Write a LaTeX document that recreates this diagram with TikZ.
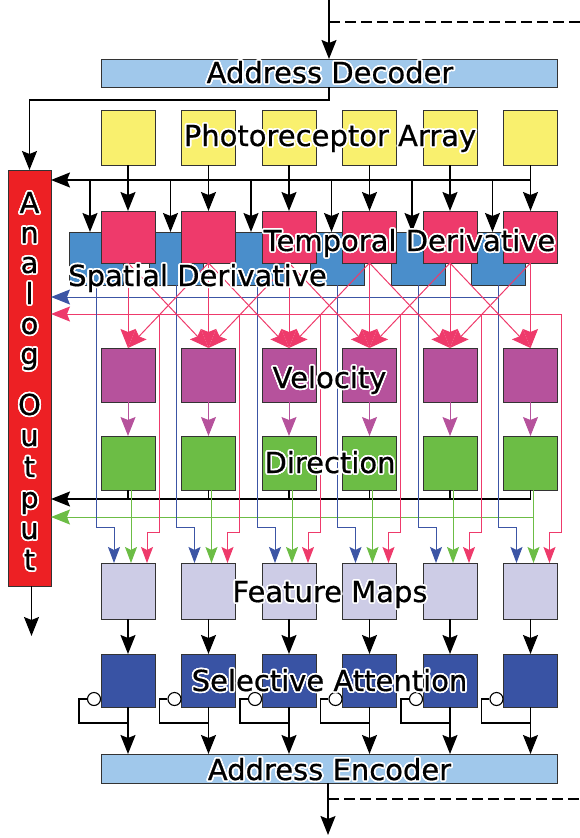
\documentclass[tikz,border=0pt]{standalone}
\usepackage{fontspec}
\setmainfont{DejaVu Sans}
\newfontfamily\lblfont[FakeBold=0.6]{DejaVu Sans}
\usetikzlibrary{arrows.meta,calc}
\definecolor{addrc}{HTML}{A0C8EB}
\definecolor{yelc}{HTML}{F9F06E}
\definecolor{pinkc}{HTML}{EE3A6B}
\definecolor{spatc}{HTML}{4A8ECB}
\definecolor{velc}{HTML}{B6529C}
\definecolor{dirc}{HTML}{6CBD45}
\definecolor{featc}{HTML}{CDCCE6}
\definecolor{selc}{HTML}{3953A4}
\definecolor{anac}{HTML}{ED2024}
\definecolor{bluelc}{HTML}{3C55A5}
\newcommand{\halolabel}[3]{%
  \foreach \hang [count=\hc] in {0,22.5,...,337.5}{%
    \node[lbl,text=white,shift={(\hang:1.7pt)}] (#1-h\hc) at (#2) {#3};}
  \node[lbl] (#1) at (#2) {#3};}
\begin{document}
\begin{tikzpicture}[x=1pt,y=-1pt,
  bx/.style={draw=black!80,line width=1pt,minimum width=54pt,inner sep=0pt,outer sep=0pt},
  bigtip/.style={-{Stealth[length=19pt,width=15pt,inset=3pt]}},
  smalltip/.style={-{Stealth[length=16pt,width=12pt,inset=3pt]}},
  blk/.style={draw=black,line width=1.3pt},
  bline/.style={draw=bluelc,line width=1pt},
  pline/.style={draw=pinkc,line width=1pt},
  gline/.style={draw=dirc,line width=1pt},
  mline/.style={draw=velc,line width=1pt},
  dashline/.style={draw=black,line width=1.1pt,dash pattern=on 11pt off 5pt},
  lbl/.style={font=\lblfont\fontsize{29}{30}\selectfont,inner sep=0pt,outer sep=0pt,anchor=base},
]
\useasboundingbox (0,0) rectangle (580,838);

% ---------- boxes ----------
\node[bx,fill=addrc,minimum width=456pt,minimum height=28pt] (dec) at (329,73) {};
\node[bx,fill=addrc,minimum width=456pt,minimum height=29pt] (enc) at (329,768.5) {};
\node[bx,fill=anac,minimum width=43pt,minimum height=416pt] (ana) at (29.5,378) {};

\foreach \i in {1,...,6}{
  \pgfmathsetmacro{\cx}{128+80.5*(\i-1)}
  \node[bx,fill=yelc,minimum height=55pt] (y\i) at (\cx,137.5) {};
  \node[bx,fill=spatc,minimum height=53pt] (b\i) at (\cx-32,258.5) {};
}
\foreach \i in {1,...,6}{
  \pgfmathsetmacro{\cx}{128+80.5*(\i-1)}
  \node[bx,fill=pinkc,minimum height=52pt] (p\i) at (\cx,237) {};
  \node[bx,fill=velc,minimum height=54pt] (v\i) at (\cx,375) {};
  \node[bx,fill=dirc,minimum height=54pt] (d\i) at (\cx,463) {};
  \node[bx,fill=featc,minimum height=56pt] (f\i) at (\cx,591) {};
  \node[bx,fill=selc,minimum height=53pt] (s\i) at (\cx,680.5) {};
  \node[circle,draw=black,fill=white,line width=1.1pt,minimum size=13pt,inner sep=0pt] (c\i) at (\cx-34,699) {};
}

% ---------- top / bottom connectors ----------
\coordinate (tin) at (329,0);
\coordinate (tdash) at (329,22);
\coordinate (tdashe) at (580,22);
\draw[blk,bigtip] (tin) -- (tin |- dec.north);
\draw[dashline] (tdash) -- (tdashe);
\coordinate (dj) at (329,100);
\draw[blk,bigtip] (dec.south -| dj) -- (dj) -- (dj -| ana.north) -- (ana.north);

\coordinate (bout) at (328,835);
\coordinate (bdash) at (328,799);
\coordinate (bdashe) at (580,799);
\draw[blk,bigtip] (enc.south -| bout) -- (bout);
\draw[dashline] (bdash) -- (bdashe);

\coordinate (aout) at (31.5,636);
\draw[blk,bigtip] (ana.south -| aout) -- (aout);

% ---------- horizontal buses into analog output ----------
\coordinate (hk) at (0,180);
\coordinate (hb) at (0,297);
\coordinate (hp) at (0,314);
\coordinate (hd) at (0,499);
\coordinate (hg) at (0,517);
\coordinate (pend) at (561.5,314);
\coordinate (gend) at (533.5,517);
\draw[blk,bigtip] (y6.south |- hk) -- (ana.east |- hk);
\draw[bline,bigtip] (b6.south |- hb) -- (ana.east |- hb);
\draw[pline,bigtip] (pend) -- (ana.east |- hp);
\draw[blk,bigtip] (d6.south |- hd) -- (ana.east |- hd);
\draw[gline,bigtip] (gend) -- (ana.east |- hg);

% ---------- per column ----------
\foreach \i in {1,...,6}{
  \pgfmathsetmacro{\cx}{128+80.5*(\i-1)}
  \draw[blk,bigtip] (y\i.south) -- (p\i.north);
  \coordinate (hb\i) at (\cx-38,180);
  \draw[blk,bigtip] (hb\i) -- (hb\i |- b\i.north);
  % blue path
  \coordinate (bj\i) at (\cx-14,527);
  \draw[bline,smalltip] (b\i.south) -- (b\i.south |- bj\i) -- (bj\i) -- (bj\i |- f\i.north);
  % pink path
  \coordinate (pt\i) at (\cx+31,314);
  \coordinate (pj\i) at (\cx+19,532);
  \draw[pline,smalltip] (pt\i) -- (pt\i |- pj\i) -- (pj\i) -- (pj\i |- f\i.north);
  % temporal -> velocity
  \draw[pline,bigtip] (p\i.south) -- (v\i.north);
  % velocity -> direction
  \draw[mline,bigtip] (v\i.south) -- (d\i.north);
  % direction tick
  \draw[blk] (d\i.south) -- (d\i.south |- hd);
  % green
  \coordinate (g\i) at (\cx+3,0);
  \draw[gline,smalltip] (g\i |- d\i.south) -- (g\i |- f\i.north);
  % feature -> selective -> encoder
  \draw[blk,bigtip] (f\i.south) -- (s\i.north);
  \draw[blk,bigtip] (s\i.south) -- (s\i.south |- enc.north);
  % inhibitory loop
  \coordinate (lp\i) at (\cx-49,723);
  \draw[blk] (c\i.west) -- (lp\i |- c\i.west) -- (lp\i) -- (lp\i -| s\i.south);
}
\foreach \i/\j in {1/2,2/1,2/3,3/2,3/4,4/3,4/5,5/4,5/6,6/5}{
  \draw[pline,bigtip] (p\i.south) -- (v\j.north);
}

% ---------- labels ----------
\halolabel{tdec}{330,83}{Address Decoder}
\halolabel{tpho}{330,146}{Photoreceptor Array}
\halolabel{ttem}{409.5,251}{Temporal Derivative}
\halolabel{tspa}{197.5,286}{Spatial Derivative}
\halolabel{tvel}{329.5,388}{Velocity}
\halolabel{tdir}{330,473}{Direction}
\halolabel{tfea}{330,602}{Feature Maps}
\halolabel{tsel}{329.5,691}{Selective Attention}
\halolabel{tenc}{329.5,780}{Address Encoder}

\halolabel{a1}{29.5,213}{A}
\halolabel{a2}{29.5,243}{n}
\halolabel{a3}{29.5,273}{a}
\halolabel{a4}{29.5,304}{l}
\halolabel{a5}{29.5,334}{o}
\halolabel{a6}{29.5,364}{g}
\halolabel{a7}{29.5,415}{O}
\halolabel{a8}{29.5,446}{u}
\halolabel{a9}{29.5,477}{t}
\halolabel{a10}{29.5,508}{p}
\halolabel{a11}{29.5,539}{u}
\halolabel{a12}{29.5,570}{t}
\end{tikzpicture}
\end{document}
